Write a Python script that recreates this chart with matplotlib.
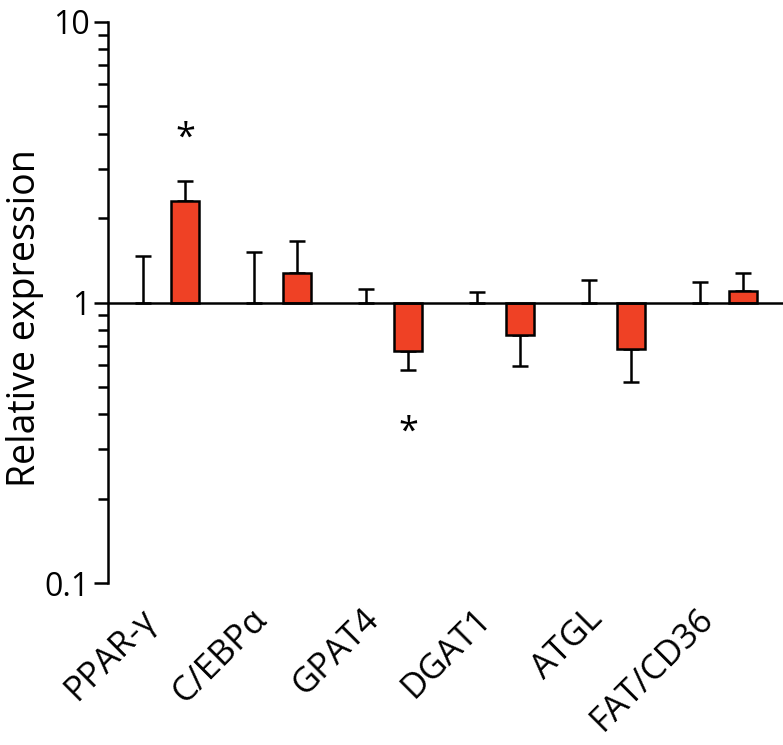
import numpy as np
import matplotlib.pyplot as plt
from matplotlib.ticker import LogLocator, NullFormatter
from matplotlib.transforms import ScaledTranslation

# dati
genes = ["PPAR-γ", "C/EBPα", "GPAT4", "DGAT1", "ATGL", "FAT/CD36"]
control = [1.0, 1.0, 1.0, 1.0, 1.0, 1.0]
control_err_top = [1.47, 1.51, 1.12, 1.09, 1.20, 1.18]
treated = [2.31, 1.27, 0.674, 0.763, 0.682, 1.10]
treated_err_end = [2.70, 1.66, 0.577, 0.596, 0.52, 1.27]
significant = [True, False, True, False, False, False]

red = "#EF4125"
lw = 1.8

plt.rcParams['font.family'] = ['Open Sans', 'DejaVu Sans']

fig = plt.figure(figsize=(7.83, 7.45), dpi=100)
ax = fig.add_axes([0.138, 0.2174, 0.862, 0.7531])

x = np.arange(len(genes))
off = 0.19
w = 0.25

ctrl = np.array(control)
trt = np.array(treated)
c_up = np.array(control_err_top) - ctrl
t_end = np.array(treated_err_end)

# controllo: barre invisibili, solo errore verso l'alto
ax.errorbar(x - off, ctrl, yerr=[np.zeros_like(c_up), c_up], fmt="none",
            ecolor="black", elinewidth=lw, capsize=5.5, capthick=lw, zorder=3)

# trattati: barre rosse a partire da 1
ax.bar(x + off, trt - 1, bottom=1, width=w, color=red, edgecolor="black",
       linewidth=lw, zorder=2)
lower = np.where(trt < 1, trt - t_end, 0)
upper = np.where(trt >= 1, t_end - trt, 0)
ax.errorbar(x + off, trt, yerr=[lower, upper], fmt="none", ecolor="black",
            elinewidth=lw, capsize=5.5, capthick=lw, zorder=1)

for i, s in enumerate(significant):
    if s:
        if trt[i] >= 1:
            yy = t_end[i] * 1.42
        else:
            yy = t_end[i] / 1.68
        ax.text(x[i] + off, yy, "*", ha="center", va="center", fontsize=26)

ax.axhline(1, color="black", linewidth=lw, zorder=4)

ax.set_yscale("log")
ax.set_ylim(0.1, 10)
ax.set_xlim(-0.503, 5.55)

ax.yaxis.set_minor_locator(LogLocator(base=10, subs=np.arange(2, 10), numticks=10))
ax.yaxis.set_minor_formatter(NullFormatter())
ax.set_yticks([0.1, 1, 10])
ax.set_yticklabels(["0.1", "1", "10"])
ax.tick_params(axis="y", which="major", length=10, width=lw, labelsize=23, pad=3)
ax.tick_params(axis="y", which="minor", length=7, width=lw)

# etichette geni al centro di ogni gruppo
ax.set_xticks(x)
ax.set_xticklabels(genes, rotation=45, ha="right", va="top",
                   rotation_mode="anchor", fontsize=25)
ax.tick_params(axis="x", length=0, pad=18)
shift = ScaledTranslation(-0.25, 0.06, fig.dpi_scale_trans)
for lab in ax.get_xticklabels():
    lab.set_transform(lab.get_transform() + shift)

for side in ["top", "right", "bottom"]:
    ax.spines[side].set_visible(False)
ax.spines["left"].set_linewidth(lw)

ax.set_ylabel("Relative expression", fontsize=27)
ax.yaxis.set_label_coords(-0.095, 0.472)

fig.savefig("out.png", dpi=100)
